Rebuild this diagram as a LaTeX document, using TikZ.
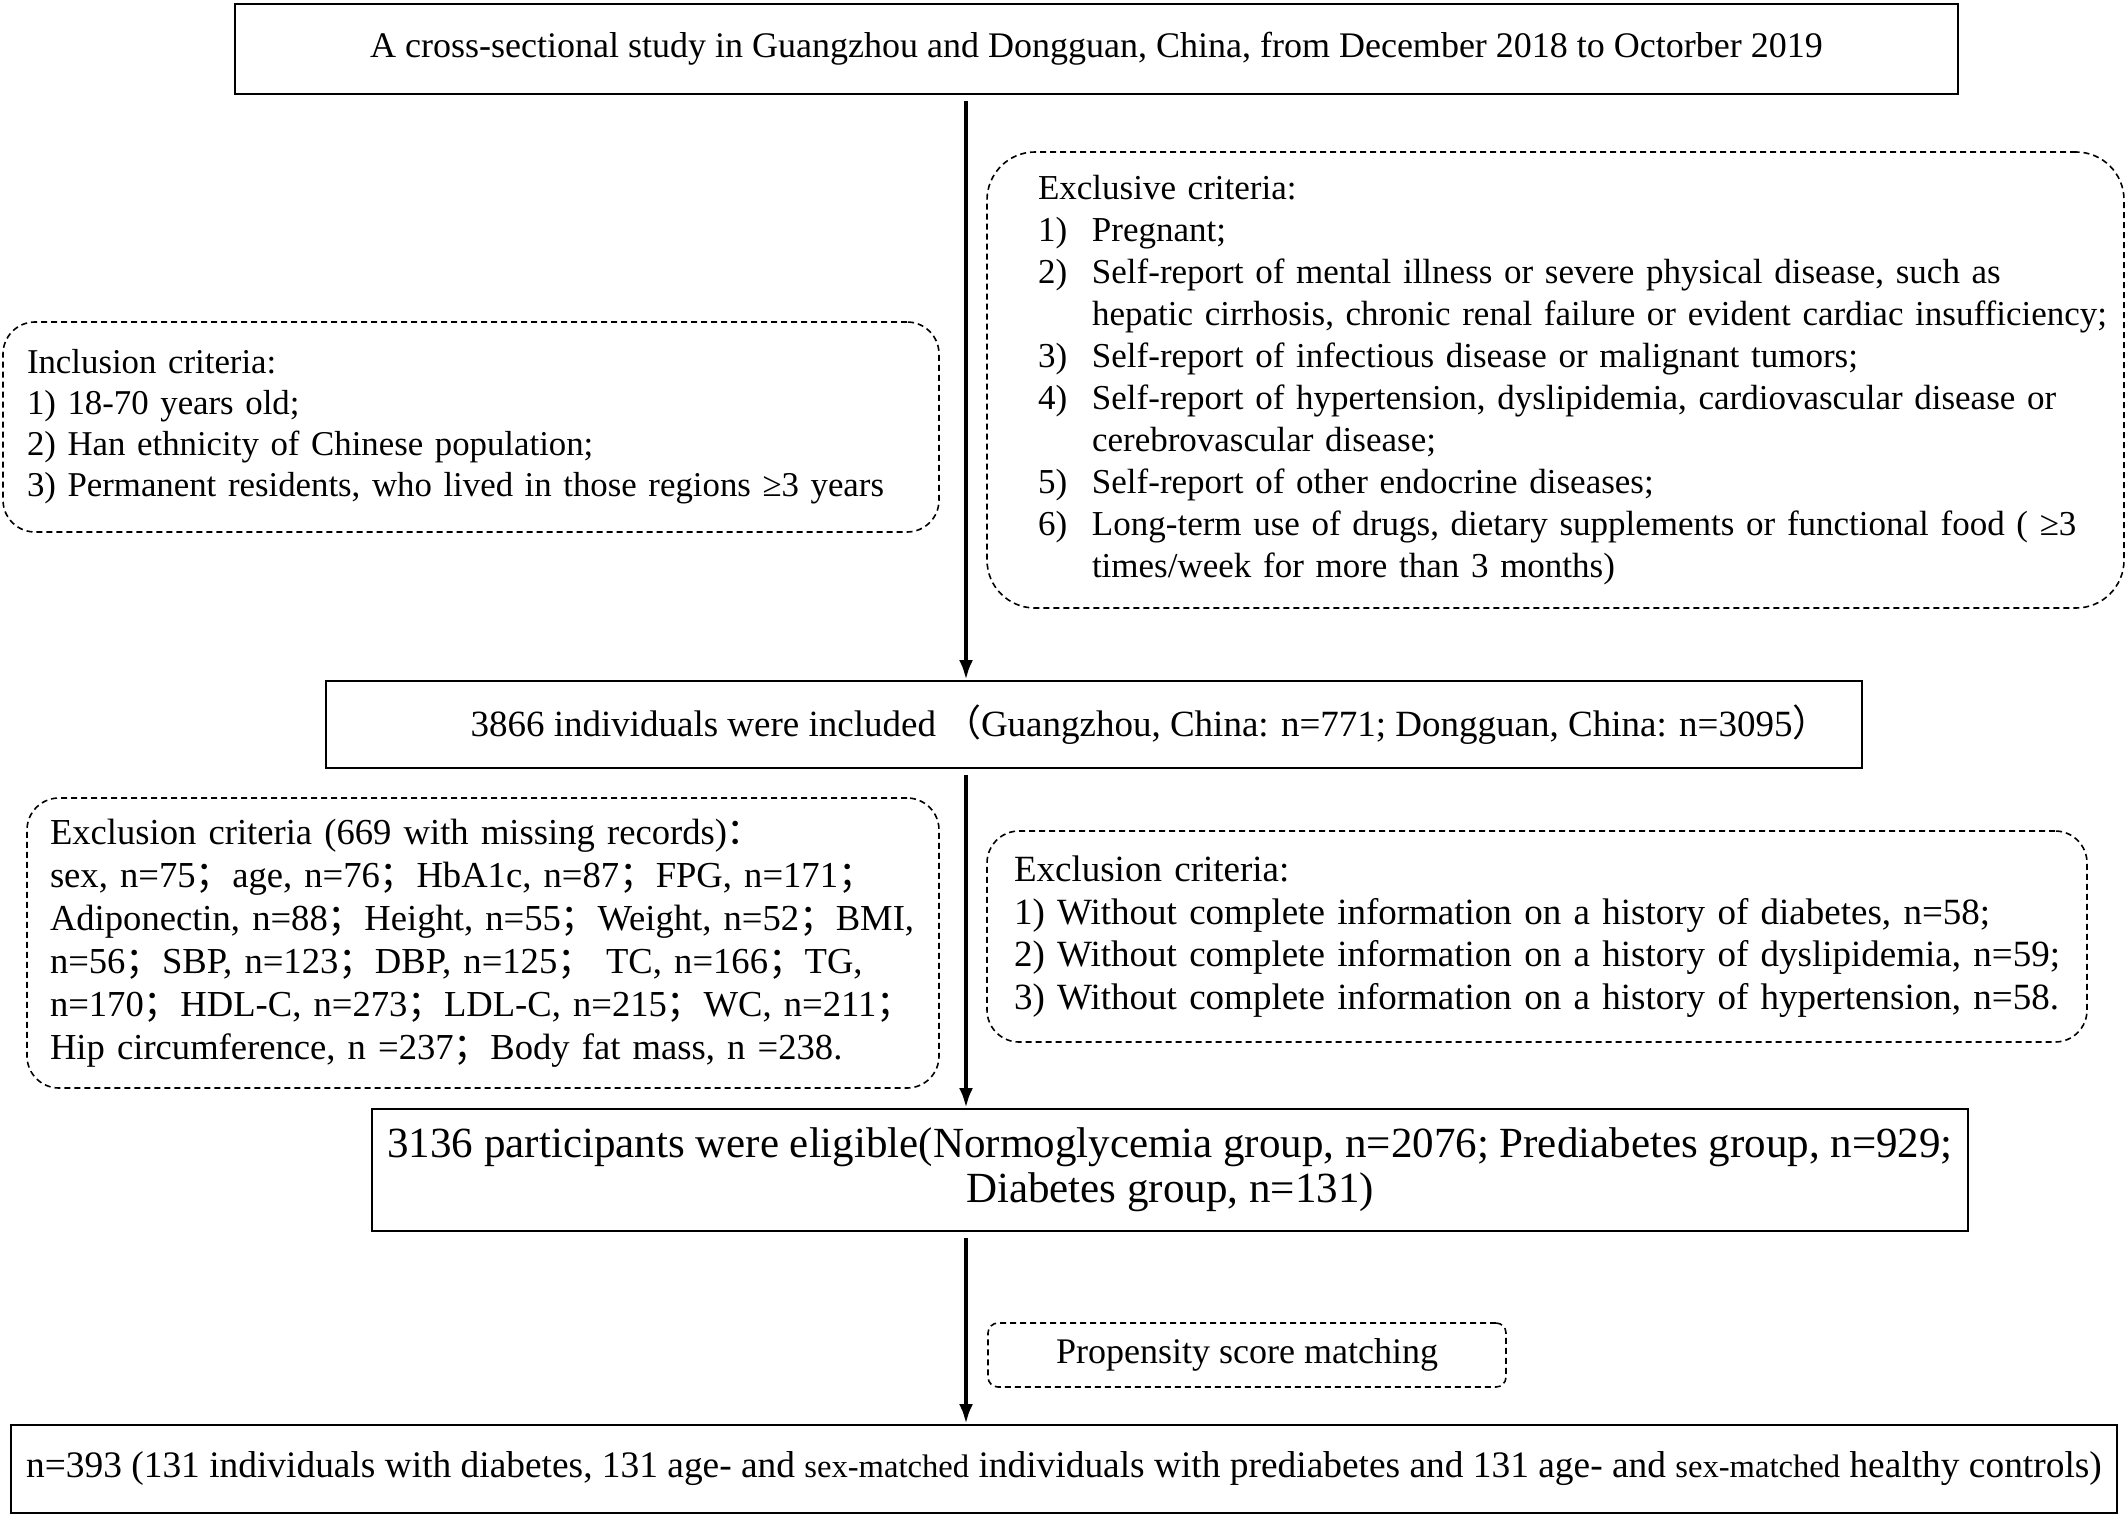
\documentclass[tikz,border=0pt]{standalone}
\usepackage{fontspec}
\setmainfont{Liberation Serif}
\newfontfamily\cjk{Noto Sans CJK SC}
\usetikzlibrary{arrows.meta}
\newcommand{\fw}[1]{{\cjk #1}}
\newcommand{\itm}[2]{\mbox{\makebox[27pt][l]{#1}#2}}
\newcommand{\cont}[1]{\mbox{\hspace*{27pt}#1}}
\newcommand{\fsz}[2]{\fontsize{#1}{#2}\selectfont}
\begin{document}
\begin{tikzpicture}[x=0.5pt,y=-0.5pt,
  every node/.style={font=\fsz{18}{21}},
  solidbox/.style={draw, line width=1pt, rectangle},
  dashbox/.style={draw, line width=0.8pt, dash pattern=on 3pt off 2pt, rounded corners=16pt},
  arr/.style={line width=2pt, -{Latex[length=10pt,width=7pt]}, shorten <=3pt}]
\useasboundingbox (0,0) rectangle (2128,1519);
\fill[white] (0,0) rectangle (2128,1519);

\node[solidbox, minimum width=861.5pt, minimum height=45pt] (top) at (1096.5,49)
  {A cross-sectional study in Guangzhou and Dongguan, China, from December 2018 to Octorber 2019};

\node[dashbox, rounded corners=24pt, minimum height=228pt, text width=517.5pt, inner xsep=25.5pt, align=left, font=\fsz{17.5}{21}] (exclA) at (1555.5,380)
  {\mbox{Exclusive criteria:}\\
   \itm{1)}{Pregnant;}\\
   \itm{2)}{Self-report of mental illness or severe physical disease, such as}\\
   \cont{hepatic cirrhosis, chronic renal failure or evident cardiac insufficiency;}\\
   \itm{3)}{Self-report of infectious disease or malignant tumors;}\\
   \itm{4)}{Self-report of hypertension, dyslipidemia, cardiovascular disease or}\\
   \cont{cerebrovascular disease;}\\
   \itm{5)}{Self-report of other endocrine diseases;}\\
   \itm{6)}{Long-term use of drugs, dietary supplements or functional food ( ≥3}\\
   \cont{times/week for more than 3 months)}};

\node[dashbox, minimum height=105pt, text width=444pt, inner xsep=12pt, align=left, font=\fsz{17.4}{20.5}] (incl) at (471,427)
  {\mbox{Inclusion criteria:}\\
   \mbox{1) 18-70 years old;}\\
   \mbox{2) Han ethnicity of Chinese population;}\\
   \mbox{3) Permanent residents, who lived in those regions ≥3 years}\\[4pt]};

\node[solidbox, minimum width=768pt, minimum height=43.5pt, font=\fsz{18.5}{21}] (n3866) at (1094,724.5)
  {\hspace*{56pt}3866 individuals were included\hspace{4pt}\fw{（}Guangzhou, China: n=771; Dongguan, China: n=3095\fw{）}};

\node[dashbox, minimum height=145pt, text width=433pt, inner xsep=11.5pt, align=left, font=\fsz{18.3}{21.5}] (exclB) at (483,943)
  {\mbox{Exclusion criteria (669 with missing records)\fw{：}}\\
   \mbox{sex, n=75\fw{；}age, n=76\fw{；}HbA1c, n=87\fw{；}FPG, n=171\fw{；}}\\
   \mbox{Adiponectin, n=88\fw{；}Height, n=55\fw{；}Weight, n=52\fw{；}BMI,}\\
   \mbox{n=56\fw{；}SBP, n=123\fw{；}DBP, n=125\fw{；} TC, n=166\fw{；}TG,}\\
   \mbox{n=170\fw{；}HDL-C, n=273\fw{；}LDL-C, n=215\fw{；}WC, n=211\fw{；}}\\
   \mbox{Hip circumference, n =237\fw{；}Body fat mass, n =238.}};

\node[dashbox, minimum height=105.5pt, text width=523pt, inner xsep=13.5pt, align=left, font=\fsz{18.5}{21.25}] (exclC) at (1537,936.5)
  {\mbox{Exclusion criteria:}\\
   \mbox{1) Without complete information on a history of diabetes, n=58;}\\
   \mbox{2) Without complete information on a history of dyslipidemia, n=59;}\\
   \mbox{3) Without complete information on a history of hypertension, n=58.}};

\node[solidbox, minimum width=798pt, minimum height=61pt, align=center, font=\fsz{21.5}{22.5}] (n3136) at (1170,1170)
  {3136 participants were eligible(Normoglycemia group, n=2076; Prediabetes group, n=929;\\
   Diabetes group, n=131)};

\node[dashbox, rounded corners=5pt, minimum width=259pt, minimum height=32pt] (psm) at (1247,1355)
  {Propensity score matching};

\node[solidbox, minimum width=1053pt, minimum height=44pt, font=\fsz{18.7}{21}] (final) at (1064,1469)
  {n=393 (131 individuals with diabetes, 131 age- and {\fsz{16.3}{18}sex-matched} individuals with prediabetes and 131 age- and {\fsz{16.3}{18}sex-matched} healthy controls)};

\coordinate (ax) at (966,0);
\draw[arr] (top.south -| ax) -- (n3866.north -| ax);
\draw[arr] (n3866.south -| ax) -- (n3136.north -| ax);
\draw[arr] (n3136.south -| ax) -- (final.north -| ax);
\end{tikzpicture}
\end{document}
